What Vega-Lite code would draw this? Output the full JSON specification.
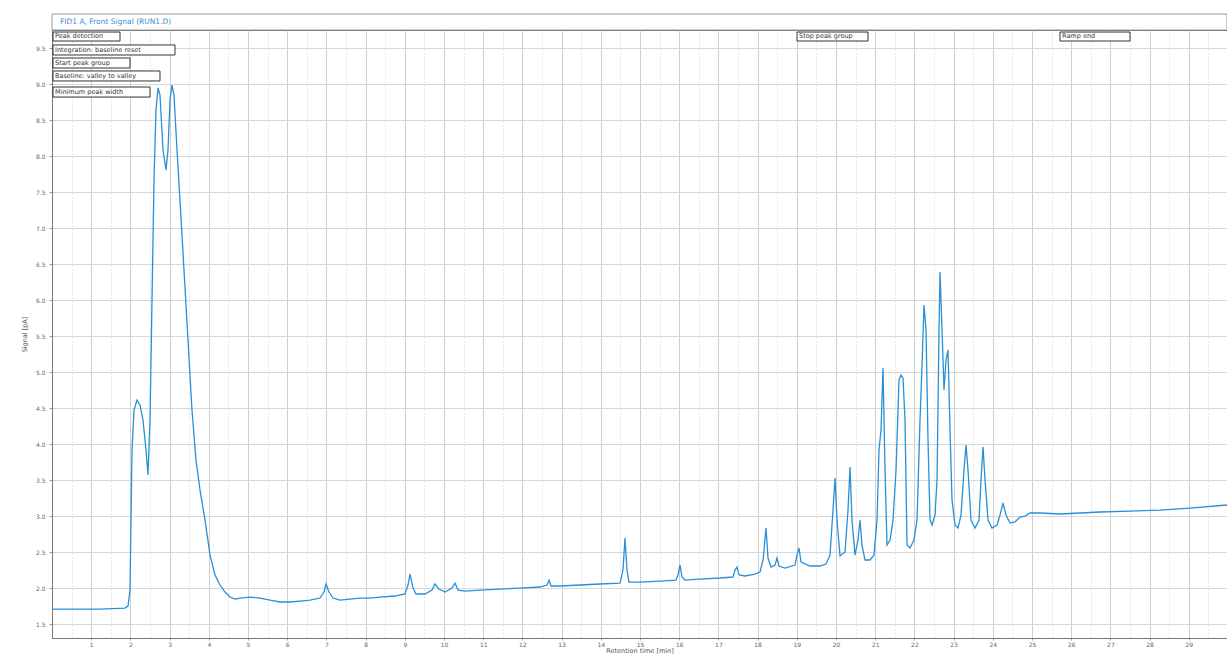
{
  "$schema": "https://vega.github.io/schema/vega-lite/v6.json",
  "width": 1175,
  "height": 608,
  "autosize": {"type": "none"},
  "padding": {"left": 52, "top": 30, "right": 0, "bottom": 19},
  "background": "white",
  "config": {
    "view": {"stroke": "#666", "strokeWidth": 1},
    "axis": {"labelFont": "DejaVu Sans", "titleFont": "DejaVu Sans", "labelFontSize": 6, "titleFontSize": 6.5, "labelColor": "#666", "titleColor": "#555", "titleFontWeight": "normal", "gridColor": "#d2d2d2", "domainColor": "#777", "tickColor": "#999"}
  },
  "datasets": {
    "signal": [
      {"t":0,"v":1.708},{"t":1.224,"v":1.708},{"t":1.862,"v":1.722},{"t":1.939,"v":1.75},{"t":1.99,"v":1.972},{"t":2.041,"v":3.917},{"t":2.092,"v":4.472},{"t":2.168,"v":4.611},{"t":2.245,"v":4.542},{"t":2.321,"v":4.333},{"t":2.398,"v":3.917},{"t":2.449,"v":3.569},{"t":2.5,"v":4.333},{"t":2.551,"v":6.0},{"t":2.602,"v":7.667},{"t":2.653,"v":8.639},{"t":2.704,"v":8.944},{"t":2.755,"v":8.847},{"t":2.832,"v":8.083},{"t":2.908,"v":7.806},{"t":2.959,"v":8.083},{"t":3.01,"v":8.778},{"t":3.061,"v":8.986},{"t":3.112,"v":8.847},{"t":3.189,"v":8.083},{"t":3.265,"v":7.389},{"t":3.367,"v":6.417},{"t":3.469,"v":5.444},{"t":3.571,"v":4.472},{"t":3.673,"v":3.778},{"t":3.776,"v":3.361},{"t":3.903,"v":2.944},{"t":4.031,"v":2.458},{"t":4.158,"v":2.181},{"t":4.286,"v":2.042},{"t":4.413,"v":1.944},{"t":4.541,"v":1.875},{"t":4.668,"v":1.847},{"t":4.796,"v":1.861},{"t":5.051,"v":1.875},{"t":5.306,"v":1.861},{"t":5.561,"v":1.833},{"t":5.816,"v":1.806},{"t":6.071,"v":1.806},{"t":6.327,"v":1.819},{"t":6.582,"v":1.833},{"t":6.837,"v":1.861},{"t":6.939,"v":1.944},{"t":6.99,"v":2.056},{"t":7.066,"v":1.944},{"t":7.168,"v":1.861},{"t":7.347,"v":1.833},{"t":7.602,"v":1.847},{"t":7.857,"v":1.861},{"t":8.112,"v":1.861},{"t":8.367,"v":1.875},{"t":8.75,"v":1.889},{"t":9.005,"v":1.917},{"t":9.082,"v":2.042},{"t":9.133,"v":2.194},{"t":9.209,"v":2.0},{"t":9.286,"v":1.917},{"t":9.515,"v":1.917},{"t":9.694,"v":1.972},{"t":9.77,"v":2.056},{"t":9.872,"v":1.986},{"t":10.026,"v":1.944},{"t":10.204,"v":2.0},{"t":10.281,"v":2.069},{"t":10.357,"v":1.972},{"t":10.536,"v":1.958},{"t":10.918,"v":1.972},{"t":11.429,"v":1.986},{"t":11.939,"v":2.0},{"t":12.449,"v":2.014},{"t":12.628,"v":2.042},{"t":12.679,"v":2.111},{"t":12.73,"v":2.028},{"t":12.959,"v":2.028},{"t":13.469,"v":2.042},{"t":13.98,"v":2.056},{"t":14.49,"v":2.069},{"t":14.566,"v":2.25},{"t":14.617,"v":2.694},{"t":14.668,"v":2.25},{"t":14.719,"v":2.083},{"t":15.0,"v":2.083},{"t":15.51,"v":2.097},{"t":15.918,"v":2.111},{"t":15.969,"v":2.181},{"t":16.02,"v":2.319},{"t":16.071,"v":2.153},{"t":16.148,"v":2.111},{"t":16.531,"v":2.125},{"t":17.041,"v":2.139},{"t":17.372,"v":2.153},{"t":17.423,"v":2.25},{"t":17.474,"v":2.292},{"t":17.526,"v":2.181},{"t":17.679,"v":2.167},{"t":17.934,"v":2.194},{"t":18.061,"v":2.222},{"t":18.138,"v":2.389},{"t":18.214,"v":2.833},{"t":18.265,"v":2.417},{"t":18.342,"v":2.292},{"t":18.444,"v":2.319},{"t":18.495,"v":2.417},{"t":18.546,"v":2.306},{"t":18.699,"v":2.278},{"t":18.954,"v":2.319},{"t":19.005,"v":2.458},{"t":19.056,"v":2.556},{"t":19.107,"v":2.361},{"t":19.337,"v":2.306},{"t":19.592,"v":2.306},{"t":19.745,"v":2.333},{"t":19.847,"v":2.458},{"t":19.923,"v":3.083},{"t":19.974,"v":3.528},{"t":20.026,"v":2.944},{"t":20.102,"v":2.444},{"t":20.23,"v":2.5},{"t":20.306,"v":3.083},{"t":20.357,"v":3.681},{"t":20.408,"v":2.944},{"t":20.485,"v":2.458},{"t":20.561,"v":2.667},{"t":20.612,"v":2.944},{"t":20.663,"v":2.597},{"t":20.74,"v":2.389},{"t":20.867,"v":2.389},{"t":20.969,"v":2.458},{"t":21.046,"v":2.944},{"t":21.097,"v":3.917},{"t":21.148,"v":4.194},{"t":21.199,"v":5.056},{"t":21.25,"v":3.639},{"t":21.301,"v":2.597},{"t":21.378,"v":2.667},{"t":21.454,"v":2.944},{"t":21.531,"v":3.639},{"t":21.607,"v":4.889},{"t":21.658,"v":4.958},{"t":21.709,"v":4.917},{"t":21.76,"v":4.333},{"t":21.811,"v":2.597},{"t":21.888,"v":2.556},{"t":21.99,"v":2.667},{"t":22.066,"v":2.944},{"t":22.143,"v":4.333},{"t":22.194,"v":5.097},{"t":22.245,"v":5.931},{"t":22.296,"v":5.583},{"t":22.347,"v":4.056},{"t":22.398,"v":2.944},{"t":22.449,"v":2.875},{"t":22.526,"v":3.014},{"t":22.577,"v":3.5},{"t":22.628,"v":5.583},{"t":22.653,"v":6.389},{"t":22.704,"v":5.583},{"t":22.755,"v":4.75},{"t":22.806,"v":5.167},{"t":22.857,"v":5.306},{"t":22.908,"v":4.194},{"t":22.959,"v":3.222},{"t":23.036,"v":2.875},{"t":23.112,"v":2.833},{"t":23.189,"v":3.014},{"t":23.265,"v":3.639},{"t":23.316,"v":3.986},{"t":23.367,"v":3.639},{"t":23.444,"v":2.944},{"t":23.546,"v":2.833},{"t":23.648,"v":2.944},{"t":23.699,"v":3.5},{"t":23.75,"v":3.958},{"t":23.801,"v":3.5},{"t":23.878,"v":2.944},{"t":23.98,"v":2.833},{"t":24.107,"v":2.875},{"t":24.184,"v":3.014},{"t":24.26,"v":3.181},{"t":24.337,"v":3.014},{"t":24.439,"v":2.903},{"t":24.566,"v":2.917},{"t":24.694,"v":2.986},{"t":24.821,"v":3.0},{"t":24.949,"v":3.042},{"t":25.204,"v":3.042},{"t":25.714,"v":3.028},{"t":26.224,"v":3.042},{"t":26.735,"v":3.056},{"t":27.5,"v":3.069},{"t":28.265,"v":3.083},{"t":29.031,"v":3.111},{"t":29.974,"v":3.153}
    ],
    "events": [
      {"t0":0.026,"t1":1.735,"v0":9.722,"v1":9.597,"vm":9.66,"label":"Peak detection"},
      {"t0":0.026,"t1":3.138,"v0":9.542,"v1":9.403,"vm":9.472,"label":"Integration: baseline reset"},
      {"t0":0.026,"t1":1.99,"v0":9.361,"v1":9.222,"vm":9.292,"label":"Start peak group"},
      {"t0":0.026,"t1":2.755,"v0":9.181,"v1":9.042,"vm":9.111,"label":"Baseline: valley to valley"},
      {"t0":0.026,"t1":2.5,"v0":8.958,"v1":8.819,"vm":8.889,"label":"Minimum peak width"},
      {"t0":19.005,"t1":20.816,"v0":9.722,"v1":9.597,"vm":9.66,"label":"Stop peak group"},
      {"t0":25.714,"t1":27.5,"v0":9.722,"v1":9.597,"vm":9.66,"label":"Ramp end"}
    ],
    "header": [
      {"t0":0,"t1":29.974,"v0":9.75,"v1":9.972,"vm":9.86,"label":"FID1 A, Front Signal (RUN1.D)"}
    ]
  },
  "resolve": {"axis": {"x": "independent", "y": "independent"}},
  "layer": [
    {
      "data": {"name": "header"},
      "mark": {"type": "rect", "fill": "white", "stroke": "#9a9a9a", "strokeWidth": 1},
      "encoding": {
        "x": {"field": "t0", "type": "quantitative", "scale": {"domain": [0, 29.974], "nice": false, "zero": false}, "axis": null},
        "x2": {"field": "t1"},
        "y": {"field": "v0", "type": "quantitative", "scale": {"domain": [1.306, 9.75], "nice": false, "zero": false}, "axis": null},
        "y2": {"field": "v1"}
      }
    },
    {
      "data": {"name": "header"},
      "mark": {"type": "text", "align": "left", "baseline": "middle", "dx": 8, "fontSize": 7.5, "font": "DejaVu Sans", "color": "#3b8ed0"},
      "encoding": {
        "x": {"field": "t0", "type": "quantitative", "axis": null},
        "y": {"field": "vm", "type": "quantitative", "axis": null},
        "text": {"field": "label"}
      }
    },
    {
      "data": {"name": "signal"},
      "mark": {"type": "point", "opacity": 0},
      "encoding": {
        "x": {"field": "t", "type": "quantitative",
          "axis": {"orient": "top", "title": null, "labels": false, "ticks": false, "domain": false, "grid": true, "gridDash": [2, 2], "gridColor": "#e0e0e0", "values": [0.5,1.5,2.5,3.5,4.5,5.5,6.5,7.5,8.5,9.5,10.5,11.5,12.5,13.5,14.5,15.5,16.5,17.5,18.5,19.5,20.5,21.5,22.5,23.5,24.5,25.5,26.5,27.5,28.5,29.5]}},
        "y": {"field": "v", "type": "quantitative", "axis": null}
      }
    },
    {
      "data": {"name": "signal"},
      "mark": {"type": "line", "color": "#2a8fd6", "strokeWidth": 1.3},
      "encoding": {
        "x": {"field": "t", "type": "quantitative",
          "axis": {"orient": "bottom", "title": "Retention time [min]", "values": [1,2,3,4,5,6,7,8,9,10,11,12,13,14,15,16,17,18,19,20,21,22,23,24,25,26,27,28,29], "format": "d", "tickSize": 2, "labelPadding": 1, "titlePadding": 0, "gridColor": "#cfcfcf", "grid": true, "labelFlush": false}},
        "y": {"field": "v", "type": "quantitative",
          "axis": {"orient": "left", "title": "Signal [pA]", "values": [1.5,2,2.5,3,3.5,4,4.5,5,5.5,6,6.5,7,7.5,8,8.5,9,9.5], "format": ".1f", "tickSize": 3, "labelPadding": 4, "titlePadding": 8, "grid": true, "gridColor": "#d8d8d8", "labelFlush": false}}
      }
    },
    {
      "mark": {"type": "rule", "color": "#666", "strokeWidth": 1},
      "encoding": {"x": {"datum": 19.005, "type": "quantitative", "axis": null}}
    },
    {
      "data": {"name": "events"},
      "mark": {"type": "rect", "fill": "white", "stroke": "#333", "strokeWidth": 1},
      "encoding": {
        "x": {"field": "t0", "type": "quantitative", "axis": null},
        "x2": {"field": "t1"},
        "y": {"field": "v0", "type": "quantitative", "axis": null},
        "y2": {"field": "v1"}
      }
    },
    {
      "data": {"name": "events"},
      "mark": {"type": "text", "align": "left", "baseline": "middle", "dx": 2, "fontSize": 6.5, "font": "DejaVu Sans", "color": "#333"},
      "encoding": {
        "x": {"field": "t0", "type": "quantitative", "axis": null},
        "y": {"field": "vm", "type": "quantitative", "axis": null},
        "text": {"field": "label"}
      }
    }
  ]
}
